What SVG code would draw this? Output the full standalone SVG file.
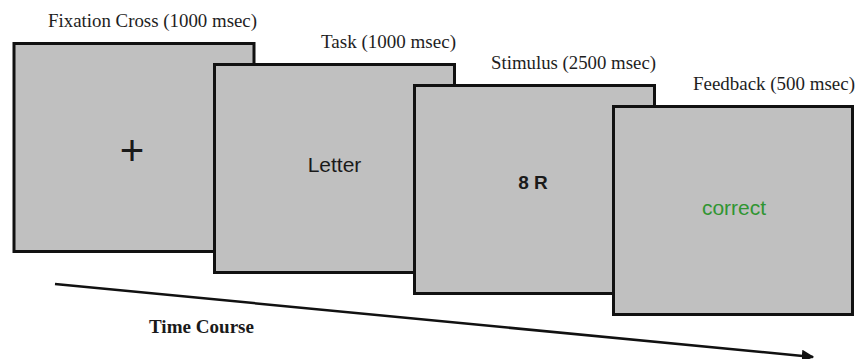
<svg xmlns="http://www.w3.org/2000/svg" width="855" height="359" viewBox="0 0 855 359">
  <defs>
    <style>
      .screen { fill: #c0c0c0; stroke: #111; stroke-width: 3; }
      .phase { font-family: "Liberation Serif", "Times New Roman", serif; font-size: 18px; fill: #1e1e1e; text-anchor: end; }
      .content { font-family: "Liberation Sans", Arial, sans-serif; text-anchor: middle; fill: #1a1a1a; }
      .axis { stroke: #111; stroke-width: 2.5; fill: none; }
    </style>
    <marker id="arrowhead" viewBox="0 0 10 10" refX="9" refY="5" markerWidth="5" markerHeight="5" orient="auto" markerUnits="strokeWidth">
      <path d="M0,0 L10,5 L0,10 z" fill="#111"/>
    </marker>
  </defs>

  <rect width="855" height="359" fill="#ffffff"/>

  <!-- trial screens, each overlapping the previous one -->
  <g id="fixation">
    <rect class="screen" x="14" y="43.5" width="240" height="208"/>
    <text class="phase" x="257" y="27" textLength="209" lengthAdjust="spacingAndGlyphs">Fixation Cross (1000 msec)</text>
    <text class="content" x="132" y="165" font-size="42">+</text>
  </g>

  <g id="task">
    <rect class="screen" x="214.5" y="64.5" width="240" height="208"/>
    <text class="phase" x="456" y="48" textLength="135" lengthAdjust="spacingAndGlyphs">Task (1000 msec)</text>
    <text class="content" x="334.5" y="172" font-size="21">Letter</text>
  </g>

  <g id="stimulus">
    <rect class="screen" x="414.5" y="85.5" width="240" height="208"/>
    <text class="phase" x="656" y="69" textLength="165" lengthAdjust="spacingAndGlyphs">Stimulus (2500 msec)</text>
    <text class="content" x="533" y="189" font-size="19" font-weight="bold">8 R</text>
  </g>

  <g id="feedback">
    <rect class="screen" x="613.5" y="106.5" width="239" height="208"/>
    <text class="phase" x="855" y="90" textLength="162" lengthAdjust="spacingAndGlyphs">Feedback (500 msec)</text>
    <text class="content" x="734" y="215" font-size="21" style="fill:#309532">correct</text>
  </g>

  <!-- time axis -->
  <g id="connectors">
    <line class="axis" x1="55" y1="284" x2="813" y2="357" marker-end="url(#arrowhead)"/>
  </g>
  <g id="time-course">
    <text x="149" y="333" font-family="'Liberation Serif', 'Times New Roman', serif" font-size="18" font-weight="bold" fill="#1a1a1a" textLength="105" lengthAdjust="spacingAndGlyphs">Time Course</text>
  </g>
</svg>
